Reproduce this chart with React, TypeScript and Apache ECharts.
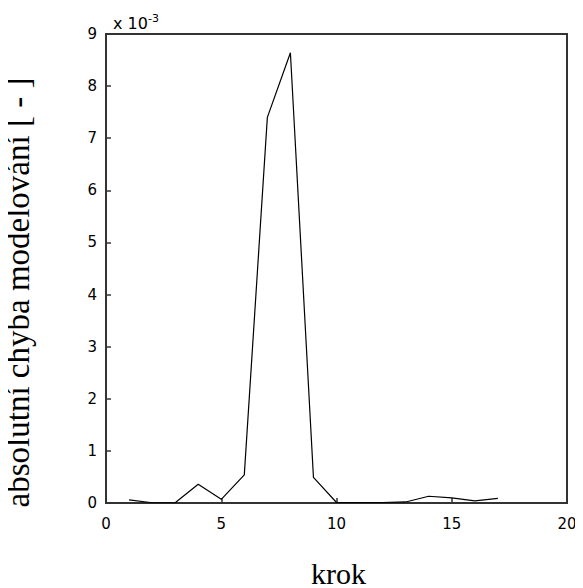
import React, { useEffect, useRef } from "react";
import * as echarts from "echarts";

// krok (step) and absolute modelling error in units of 1e-3
const steps = [1, 2, 3, 4, 5, 6, 7, 8, 9, 10, 11, 12, 13, 14, 15, 16, 17];
const errors = [0.06, 0.005, 0.005, 0.36, 0.07, 0.54, 7.4, 8.64, 0.49, 0.01, 0.01, 0.01, 0.02, 0.13, 0.1, 0.04, 0.09];

export default function App() {
  const ref = useRef<HTMLDivElement>(null);
  useEffect(() => {
    if (!ref.current) return;
    const chart = echarts.init(ref.current, null, { renderer: "svg" });
    chart.setOption({
      animation: false,
      title: {
        text: "x 10{s|-3}",
        left: 100,
        top: 0,
        textStyle: {
          fontFamily: "DejaVu Sans", fontSize: 16, fontWeight: "normal", color: "#000",
          rich: { s: { fontFamily: "DejaVu Sans", fontSize: 11, color: "#000", verticalAlign: "top", padding: [0, 0, 10, 0] } },
        },
      },
      grid: {
        left: 98, right: 24, top: 26, bottom: 93,
        outerBoundsMode: "none", containLabel: false,
        show: true, borderColor: "#333", borderWidth: 2,
      },
      xAxis: {
        type: "value", min: 0, max: 20, interval: 5,
        axisLine: { show: true, lineStyle: { color: "#333", width: 2 } },
        axisTick: { show: true, inside: true, length: 5, lineStyle: { color: "#333", width: 1.5 } },
        splitLine: { show: false },
        axisLabel: { fontFamily: "DejaVu Sans", fontSize: 15, color: "#000", margin: 13 },
        name: "krok", nameLocation: "middle", nameGap: 55,
        nameTextStyle: { fontFamily: "Liberation Serif", fontSize: 30, color: "#000", padding: [0, 0, 0, 4] },
      },
      yAxis: {
        type: "value", min: 0, max: 9, interval: 1,
        axisLine: { show: true, lineStyle: { color: "#333", width: 2 } },
        axisTick: { show: true, inside: true, length: 5, lineStyle: { color: "#333", width: 1.5 } },
        splitLine: { show: false },
        axisLabel: { fontFamily: "DejaVu Sans", fontSize: 15, color: "#000", margin: 9 },
        name: "absolutní chyba modelování [ - ]", nameLocation: "middle", nameGap: 72,
        nameTextStyle: { fontFamily: "Liberation Serif", fontSize: 33, color: "#000", padding: [0, 48, 0, 0] },
      },
      series: [
        {
          type: "line",
          data: steps.map((s, i) => [s, errors[i]]),
          showSymbol: false,
          lineStyle: { color: "#000", width: 1.2 },
        },
      ],
    });
    return () => chart.dispose();
  }, []);
  return <div ref={ref} style={{ width: 583, height: 588 }} />;
}
